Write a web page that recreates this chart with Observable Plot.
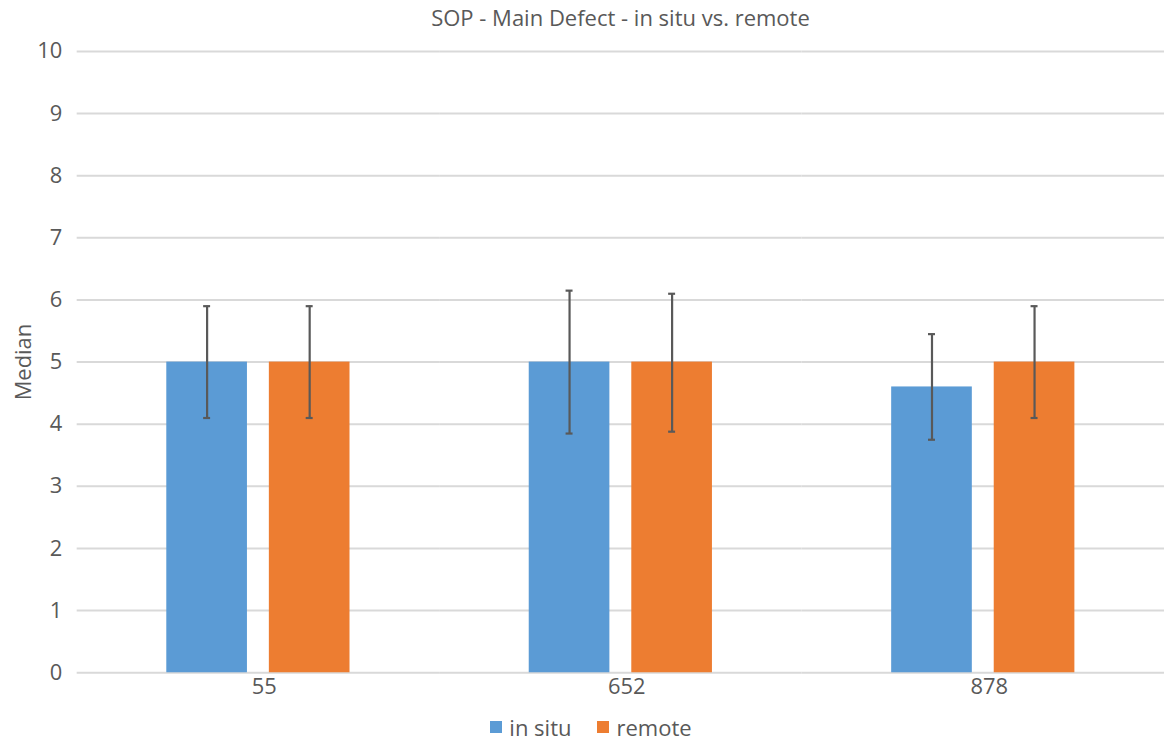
<!DOCTYPE html>
<html>
<head>
<meta charset="utf-8">
<script src="https://cdn.jsdelivr.net/npm/d3@7"></script>
<script src="https://cdn.jsdelivr.net/npm/@observablehq/plot@0.6"></script>
<style>
  html, body { margin: 0; padding: 0; background: #fff; }
  body { width: 1164px; height: 742px; overflow: hidden; font-family: "Open Sans", sans-serif; color: #595959; }
  #title { height: 35px; line-height: 34px; font-size: 22px; text-align: center; padding-left: 77px; box-sizing: border-box; width: 1164px; }
  #chart { width: 1164px; overflow: hidden; }
  #chart svg { display: block; }
  #legend { height: 38px; display: flex; justify-content: center; align-items: center; font-size: 22px; padding-left: 18px; padding-top: 12px; box-sizing: border-box; width: 1164px; }
  .item { display: flex; align-items: center; margin: 0 13px; }
  .sw { width: 12px; height: 12px; margin-right: 7px; }
</style>
</head>
<body>
<div id="title">SOP - Main Defect - in situ vs. remote</div>
<div id="chart"></div>
<div id="legend"></div>
<script>
const categories = ["55", "652", "878"];
const series = ["in situ", "remote"];
const inSitu = [5, 5, 4.6];
const remote = [5, 5, 5];
const inSituLow = [4.1, 3.85, 3.75];
const inSituHigh = [5.9, 6.15, 5.45];
const remoteLow = [4.1, 3.88, 4.1];
const remoteHigh = [5.9, 6.1, 5.9];
const yTicks = [0, 1, 2, 3, 4, 5, 6, 7, 8, 9, 10];
const colors = ["#5B9BD5", "#ED7D31"];

const data = [];
categories.forEach((c, i) => {
  data.push({category: c, series: series[0], value: inSitu[i], low: inSituLow[i], high: inSituHigh[i]});
  data.push({category: c, series: series[1], value: remote[i], low: remoteLow[i], high: remoteHigh[i]});
});

const errColor = "#595959";
const chart = Plot.plot({
  width: 1169,
  height: 670,
  marginTop: 16,
  marginBottom: 30,
  marginLeft: 77,
  marginRight: 0,
  style: {fontFamily: "'Open Sans', sans-serif", fontSize: "22px", color: "#595959", background: "#fff"},
  fx: {domain: categories, padding: 0, label: null, axis: null},
  x: {domain: series, paddingInner: 0.2115, paddingOuter: 0.856, axis: null},
  y: {domain: [0, 10], axis: null},
  color: {domain: series, range: colors},
  marks: [
    Plot.ruleY(yTicks, {y: d => d, stroke: "#d9d9d9", strokeWidth: 2}),
    Plot.barY(data, {fx: "category", x: "series", y: "value", fill: "series"}),
    Plot.ruleX(data, {fx: "category", x: "series", y1: "low", y2: "high", stroke: errColor, strokeWidth: 2.2}),
    Plot.tickY(data, {fx: "category", x: "series", y: "low", insetLeft: 37, insetRight: 37, stroke: errColor, strokeWidth: 2.2}),
    Plot.tickY(data, {fx: "category", x: "series", y: "high", insetLeft: 37, insetRight: 37, stroke: errColor, strokeWidth: 2.2}),
    Plot.axisY({ticks: yTicks, tickSize: 0, tickPadding: 15, label: "Median", labelAnchor: "center", labelArrow: "none", labelOffset: 62, fontSize: 22}),
    Plot.axisFx({anchor: "bottom", tickSize: 0, tickPadding: 6, dx: 6, label: null, fontSize: 22})
  ]
});
document.getElementById("chart").appendChild(chart);

const legend = document.getElementById("legend");
series.forEach((s, i) => {
  const item = document.createElement("div");
  item.className = "item";
  const sw = document.createElement("div");
  sw.className = "sw";
  sw.style.background = colors[i];
  const t = document.createElement("span");
  t.textContent = s;
  item.appendChild(sw);
  item.appendChild(t);
  legend.appendChild(item);
});
</script>
</body>
</html>
